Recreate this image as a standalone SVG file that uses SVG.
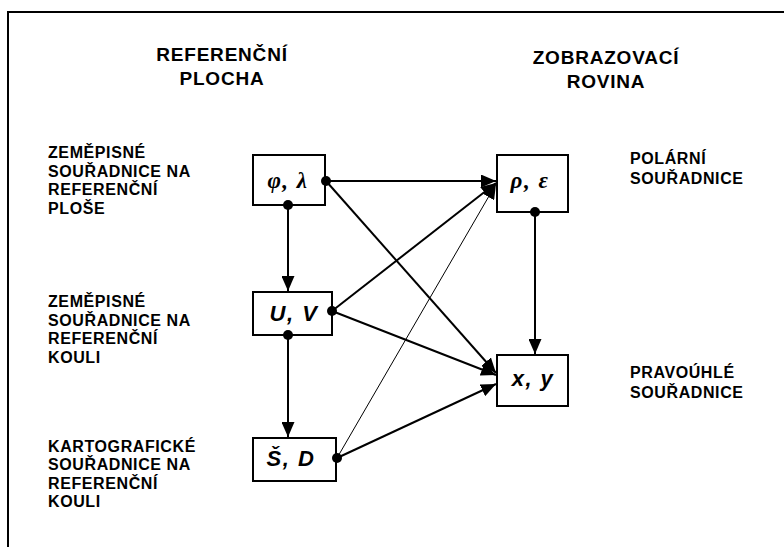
<svg xmlns="http://www.w3.org/2000/svg" width="784" height="547" viewBox="0 0 784 547">
<style>
.frame{fill:none;stroke:#000;stroke-width:2}
.box{fill:#fff;stroke:#000;stroke-width:2}
.c{fill:none;stroke:#000;stroke-width:2}
.thin{fill:none;stroke:#000;stroke-width:1}
.dot{fill:#000}
.title{font-family:"Liberation Sans",Arial,sans-serif;font-weight:bold;font-size:19px;letter-spacing:0.8px;text-anchor:middle;fill:#000}
.lbl{font-family:"Liberation Sans",Arial,sans-serif;font-weight:bold;font-size:16px;letter-spacing:0.6px;fill:#000}
.var{font-family:"Liberation Sans",Arial,sans-serif;font-weight:bold;font-style:italic;font-size:22px;letter-spacing:1.5px;text-anchor:middle;fill:#000}
.greek{font-family:"Liberation Serif","Times New Roman",serif;font-weight:bold;font-style:italic;font-size:23px;letter-spacing:1.5px;text-anchor:middle;fill:#000}
</style>
<defs>
<marker id="ah" markerUnits="userSpaceOnUse" markerWidth="15" markerHeight="13" refX="15" refY="6.5" orient="auto" viewBox="0 0 15 13">
<path d="M0,0 L15,6.5 L0,13 Z" fill="#000"/>
</marker>
</defs>
<rect width="784" height="547" fill="#fff"/>
<path class="frame" d="M8,547 L8,12 L784,12"/>

<g id="titles">
<text class="title" x="222" y="61">REFERENČNÍ</text>
<text class="title" x="222" y="85">PLOCHA</text>
<text class="title" x="606" y="64">ZOBRAZOVACÍ</text>
<text class="title" x="606" y="88">ROVINA</text>
</g>

<g id="labels">
<text class="lbl" x="48" y="158">ZEMĚPISNÉ</text>
<text class="lbl" x="48" y="176.5">SOUŘADNICE NA</text>
<text class="lbl" x="48" y="195">REFERENČNÍ</text>
<text class="lbl" x="48" y="213.5">PLOŠE</text>

<text class="lbl" x="48" y="307">ZEMĚPISNÉ</text>
<text class="lbl" x="48" y="325.5">SOUŘADNICE NA</text>
<text class="lbl" x="48" y="344">REFERENČNÍ</text>
<text class="lbl" x="48" y="362.5">KOULI</text>

<text class="lbl" x="48" y="451.5">KARTOGRAFICKÉ</text>
<text class="lbl" x="48" y="470">SOUŘADNICE NA</text>
<text class="lbl" x="48" y="488.5">REFERENČNÍ</text>
<text class="lbl" x="48" y="507">KOULI</text>

<text class="lbl" x="630" y="164">POLÁRNÍ</text>
<text class="lbl" x="630" y="184">SOUŘADNICE</text>

<text class="lbl" x="630" y="378">PRAVOÚHLÉ</text>
<text class="lbl" x="630" y="398">SOUŘADNICE</text>
</g>

<g id="connectors">
<line class="c" x1="288" y1="205" x2="288" y2="291" marker-end="url(#ah)"/>
<line class="c" x1="288" y1="335" x2="288" y2="437" marker-end="url(#ah)"/>
<line class="c" x1="535" y1="212" x2="535" y2="354" marker-end="url(#ah)"/>
<line class="c" x1="326" y1="181" x2="496" y2="181" marker-end="url(#ah)"/>
<line class="c" x1="326" y1="181" x2="496" y2="373" marker-end="url(#ah)"/>
<line class="c" x1="332" y1="311" x2="496" y2="183" marker-end="url(#ah)"/>
<line class="c" x1="332" y1="311" x2="496" y2="375" marker-end="url(#ah)"/>
<line class="c" x1="337" y1="458" x2="496" y2="384" marker-end="url(#ah)"/>
<line class="thin" x1="337" y1="458" x2="496" y2="184" marker-end="url(#ah)"/>
</g>

<g id="node-phi-lambda">
<rect class="box" x="253" y="155" width="72" height="50"/>
<text class="greek" x="288" y="188">φ, λ</text>
</g>
<g id="node-u-v">
<rect class="box" x="253" y="292" width="79" height="43"/>
<text class="var" x="294" y="321">U, V</text>
</g>
<g id="node-s-d">
<rect class="box" x="253" y="438" width="83" height="43"/>
<text class="var" x="291" y="466">Š, D</text>
</g>
<g id="node-rho-eps">
<rect class="box" x="497" y="155" width="71" height="57"/>
<text class="greek" x="530" y="188">ρ, ε</text>
</g>
<g id="node-x-y">
<rect class="box" x="497" y="355" width="71" height="51"/>
<text class="var" x="533" y="386">x, y</text>
</g>

<g id="dots">
<circle class="dot" cx="326" cy="181" r="5"/>
<circle class="dot" cx="288" cy="205" r="5"/>
<circle class="dot" cx="332" cy="311" r="5"/>
<circle class="dot" cx="288" cy="335" r="5"/>
<circle class="dot" cx="337" cy="458" r="5"/>
<circle class="dot" cx="535" cy="212" r="5"/>
</g>
</svg>
